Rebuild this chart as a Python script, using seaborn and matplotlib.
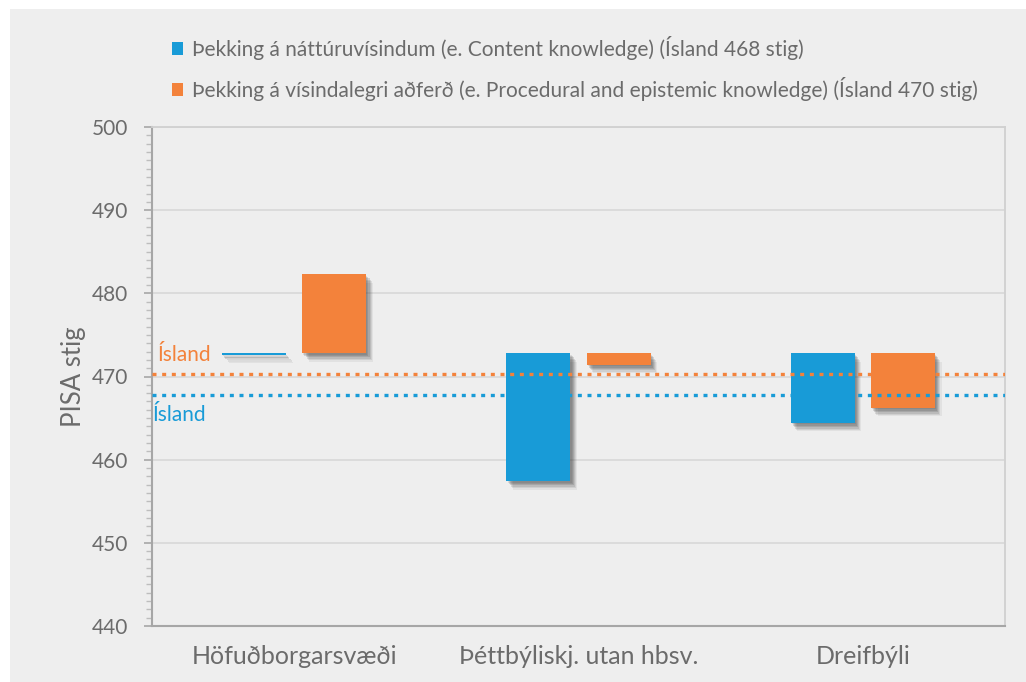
import matplotlib
matplotlib.use("Agg")
import matplotlib.pyplot as plt
import matplotlib.patheffects as pe
from matplotlib.patches import Rectangle, Patch
from matplotlib.ticker import MultipleLocator
import pandas as pd
import seaborn as sns

# ---- data ----
regions = ["Höfuðborgarsvæði", "Þéttbýliskj. utan hbsv.", "Dreifbýli"]
series_names = [
    "Þekking á náttúruvísindum (e. Content knowledge) (Ísland 468 stig)",
    "Þekking á vísindalegri aðferð (e. Procedural and epistemic knowledge) (Ísland 470 stig)",
]
content_scores = [472.6, 457.4, 464.4]
procedural_scores = [482.3, 471.4, 466.2]
base_value = 472.8
iceland_content = 467.8
iceland_procedural = 470.3
y_ticks = [440, 450, 460, 470, 480, 490, 500]
y_label = "PISA stig"
line_label = "Ísland"

BLUE = "#189BD7"
ORANGE = "#F3823B"
TEXT = "#6B6B6B"

rows = []
for r, c, p in zip(regions, content_scores, procedural_scores):
    rows.append({"region": r, "series": series_names[0], "diff": c - base_value})
    rows.append({"region": r, "series": series_names[1], "diff": p - base_value})
df = pd.DataFrame(rows)

sns.set_style("white")
plt.rcParams["font.family"] = ["Lato", "DejaVu Sans"]

fig = plt.figure(figsize=(10.26, 6.82), dpi=100)
fig.patch.set_facecolor("white")
fig.patches.append(Rectangle((10 / 1026, 0), 1 - 10 / 1026, 1 - 9 / 682,
                             transform=fig.transFigure, facecolor="#EEEEEE",
                             edgecolor="none", zorder=-10))
ax = fig.add_axes([152 / 1026, 1 - 626 / 682, (1005 - 152) / 1026, (626 - 127) / 682])
ax.set_facecolor("#EEEEEE")

sns.barplot(data=df, x="region", y="diff", hue="series", order=regions,
            hue_order=series_names, palette=[BLUE, ORANGE], saturation=1,
            width=0.563, gap=0.2, bottom=base_value, ax=ax, zorder=3,
            linewidth=0, errorbar=None, legend=False)

# soft drop shadow built from several faint offset layers
shadow_layers = []
for k, a in [(6.0, 0.07), (5.0, 0.10), (4.0, 0.13), (3.0, 0.16), (2.0, 0.16), (1.0, 0.12)]:
    shadow_layers.append(pe.SimplePatchShadow(offset=(k * 0.8, -k), shadow_rgbFace="#3A3A3A", alpha=a))
for patch in ax.patches:
    patch.set_path_effects(shadow_layers + [pe.Normal()])

ax.axhline(iceland_procedural, color=ORANGE, lw=2.4, ls=(0, (1.2, 1.7)), zorder=4)
ax.axhline(iceland_content, color=BLUE, lw=2.4, ls=(0, (1.2, 1.7)), zorder=4)
ax.text(0.006, 472.6, line_label, color=ORANGE, fontsize=15, va="center",
        ha="left", transform=ax.get_yaxis_transform(), zorder=5)
ax.text(0.001, 465.4, line_label, color=BLUE, fontsize=15, va="center",
        ha="left", transform=ax.get_yaxis_transform(), zorder=5)

ax.set_ylim(440, 500)
ax.set_yticks(y_ticks)
ax.yaxis.set_minor_locator(MultipleLocator(1))
ax.grid(axis="y", which="major", color="#D9D9D9", lw=1.3, zorder=0)
ax.set_axisbelow(True)
ax.tick_params(axis="y", which="major", left=True, length=6, width=1.2,
               color="#A6A6A6", labelsize=15, labelcolor=TEXT, pad=11)
ax.tick_params(axis="y", which="minor", left=True, length=4.5, width=1.0,
               color="#BDBDBD")
ax.tick_params(axis="x", length=0, labelsize=18, labelcolor=TEXT, pad=14)
ax.set_xlabel("")
ax.set_ylabel(y_label, fontsize=18.5, color=TEXT, labelpad=4)

for side in ["left", "bottom"]:
    ax.spines[side].set_color("#A6A6A6")
    ax.spines[side].set_linewidth(1.5)
for side in ["top", "right"]:
    ax.spines[side].set_visible(True)
    ax.spines[side].set_color("#D0D0D0")
    ax.spines[side].set_linewidth(1.3)

handles = [Patch(facecolor=BLUE, edgecolor="none"),
           Patch(facecolor=ORANGE, edgecolor="none")]
ax.legend(handles, series_names, loc="upper left",
          bbox_to_anchor=(172 / 1026, 1 - 36 / 682),
          bbox_transform=fig.transFigure, frameon=False,
          fontsize=15, labelcolor=TEXT, handlelength=0.55,
          handleheight=0.55, handletextpad=0.4, labelspacing=0.82,
          borderaxespad=0, borderpad=0)

fig.savefig("out.png", dpi=100, facecolor=fig.get_facecolor())
